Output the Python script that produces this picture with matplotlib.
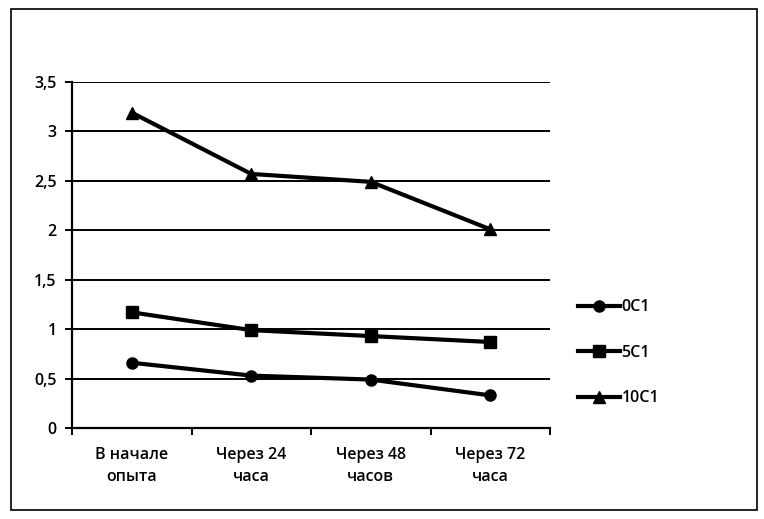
import matplotlib
matplotlib.use("Agg")
import matplotlib.pyplot as plt
from matplotlib.patches import Rectangle
from matplotlib.ticker import FuncFormatter

categories = ["В начале\nопыта", "Через 24\nчаса", "Через 48\nчасов", "Через 72\nчаса"]
series_names = ["0C1", "5C1", "10C1"]
s_0c1 = [0.66, 0.53, 0.49, 0.33]
s_5c1 = [1.17, 0.99, 0.93, 0.87]
s_10c1 = [3.19, 2.57, 2.49, 2.01]
markers = ["o", "s", "^"]
y_ticks = [0, 0.5, 1, 1.5, 2, 2.5, 3, 3.5]

plt.rcParams['font.family'] = ['Open Sans', 'DejaVu Sans']
plt.rcParams['font.weight'] = 'semibold'

fig = plt.figure(figsize=(7.64, 5.19), dpi=100)
ax = fig.add_axes([72/764, 1-428/519, (550-72)/764, (428-82)/519])

x = list(range(len(categories)))
for vals, name, m in zip([s_0c1, s_5c1, s_10c1], series_names, markers):
    ax.plot(x, vals, color='black', lw=3, marker=m, ms=8, label=name)

ax.set_xlim(-0.5, len(categories)-0.5)
ax.set_ylim(0, 3.5)
ax.set_yticks(y_ticks)
ax.yaxis.set_major_formatter(FuncFormatter(lambda v, p: ('%g' % v).replace('.', ',')))
ax.grid(axis='y', color='black', lw=1.4)
ax.set_axisbelow(True)
ax.set_xticks(x)
ax.set_xticklabels(categories, fontsize=11.5, linespacing=1.45)
ax.set_xticks([i+0.5 for i in range(-1, len(categories))], minor=True)
ax.tick_params(axis='x', which='major', length=0, pad=14)
ax.tick_params(axis='x', which='minor', length=5, width=1.4, direction='out')
ax.tick_params(axis='y', length=5, width=1.4, labelsize=11.5, pad=6)
for s in ['top', 'right']:
    ax.spines[s].set_visible(False)
ax.spines['left'].set_linewidth(1.6)
ax.spines['bottom'].set_linewidth(1.6)

leg = fig.legend(loc='upper left', bbox_to_anchor=(564/764, 1-285/519), frameon=False,
                 fontsize=11.5, handlelength=2.6, handletextpad=0.1, labelspacing=1.85)

fig.add_artist(Rectangle((11/764, 9/519), (757-11)/764, (510-9)/519, transform=fig.transFigure,
                         fill=False, edgecolor='black', lw=1.2))

fig.savefig("out.png", dpi=100)
